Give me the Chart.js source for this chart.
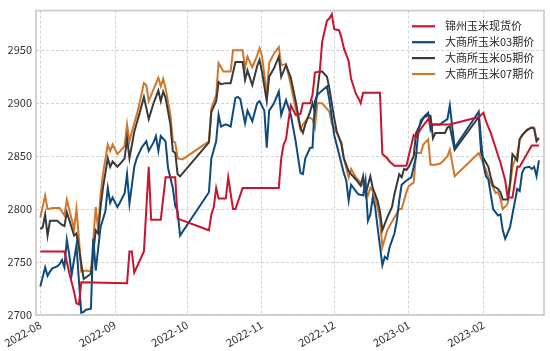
<!DOCTYPE html>
<html>
<head>
<meta charset="utf-8">
<script src="https://cdn.jsdelivr.net/npm/chart.js@4.4.0/dist/chart.umd.min.js"></script>
<style>
  html, body { margin: 0; padding: 0; background: #fff; }
</style>
</head>
<body>
<canvas id="myChart" width="550" height="351"></canvas>
<script>
// series names and colours
const seriesNames = ['锦州玉米现货价', '大商所玉米03期价', '大商所玉米05期价', '大商所玉米07期价'];
const seriesColors = ['#c8142d', '#0f4a7c', '#3a3a3a', '#d0772c'];

// 锦州玉米现货价 (dates are MM-DD, Aug 2022 .. Feb 2023)
const spotDates = ['08-01','08-11','08-13','08-15','08-16','08-17','08-18','09-06','09-07','09-08','09-09','09-13','09-15','09-16','09-20','09-22','09-26','09-27',
  '10-10','10-11','10-12','10-13','10-14','10-17','10-18','10-19','10-20','10-21','10-24','11-08','11-09','11-10','11-11','11-12','11-13','11-15','11-17','11-18','11-21',
  '11-22','11-23','11-25','11-26','11-28','11-29','11-30','12-01','12-03','12-04','12-05','12-07','12-08','12-10','12-11','12-12','12-13','12-20','12-21','12-23','12-24',
  '12-26','12-31','01-03','01-04','01-06','01-09','01-10','01-18','01-30','02-01','02-02','02-04','02-06','02-08','02-10','02-11','02-13','02-15','02-16',
  '02-18','02-21','02-24'];
const spotPrices = [2760,2760,2740,2722,2711,2710,2731,2730,2760,2760,2740,2760,2840,2790,2790,2830,2830,2791,
  2780,2795,2802,2820,2810,2810,2830,2815,2800,2800,2820,2820,2848,2861,2866,2883,2898,2889,2890,2900,2900,
  2908,2929,2930,2958,2978,2980,2984,2970,2969,2962,2952,2940,2923,2909,2905,2900,2910,2910,2852,2848,2845,
  2841,2841,2870,2868,2876,2885,2880,2880,2887,2891,2883,2872,2858,2844,2827,2811,2811,2840,2840,
  2848,2860,2860];

// 大商所玉米03期价
const c03Dates = ['08-01','08-03','08-04','08-05','08-06','08-08','08-09','08-10','08-11','08-12','08-13','08-14','08-16','08-17','08-18','08-19','08-20','08-22','08-23','08-24',
  '08-26','08-28','08-29','08-30','08-31','09-02','09-03','09-05','09-06','09-07','09-09','09-10','09-12','09-14','09-15','09-17','09-18','09-19','09-20','09-22',
  '09-23','09-25','09-26','09-27','09-28','10-10','10-11','10-13','10-14','10-15','10-17','10-19','10-21','10-22','10-23','10-25','10-26','10-28','10-30','10-31',
  '11-02','11-03','11-04','11-06','11-08','11-09','11-11','11-13','11-15','11-17','11-18','11-19','11-21','11-22','11-23','11-24','11-26','11-28','11-29','12-01',
  '12-03','12-05','12-06','12-07','12-08','12-10','12-11','12-13','12-14','12-15','12-16','12-17','12-18','12-19','12-21','12-22','12-23','12-24','12-26','12-27',
  '12-28','12-29','12-31','01-02','01-04','01-05','01-06','01-08','01-09','01-10','01-11','01-12','01-14','01-15','01-17','01-18','01-20','01-30','01-31','02-01',
  '02-02','02-03','02-04','02-05','02-07','02-08','02-09','02-10','02-12','02-13','02-15','02-16','02-17','02-18','02-20','02-21','02-22','02-23','02-24'];
const c03Prices = [2727,2745,2737,2741,2744,2746,2748,2752,2745,2771,2757,2738,2766,2733,2702,2703,2705,2706,2772,2742,
  2783,2798,2820,2806,2811,2802,2806,2815,2833,2805,2840,2848,2858,2864,2855,2863,2869,2855,2869,2864,
  2839,2820,2803,2798,2775,2816,2848,2864,2889,2878,2880,2878,2905,2906,2904,2881,2893,2883,2900,2902,
  2893,2858,2893,2900,2911,2889,2903,2889,2864,2834,2833,2848,2858,2858,2902,2908,2912,2916,2903,2870,
  2852,2834,2827,2808,2823,2817,2814,2813,2827,2789,2795,2811,2802,2783,2747,2755,2753,2764,2777,2789,
  2808,2823,2827,2830,2850,2875,2884,2889,2891,2875,2880,2880,2880,2882,2885,2898,2858,2892,2864,2842,
  2831,2828,2814,2800,2794,2795,2780,2772,2783,2795,2819,2817,2834,2839,2840,2838,2840,2831,2846];

// 大商所玉米05期价
const c05Dates = ['08-01','08-02','08-03','08-04','08-05','08-08','08-10','08-11','08-12','08-13','08-15','08-16','08-17','08-18','08-19','08-22','08-24','08-25','08-26','08-27',
  '08-29','08-30','08-31','09-02','09-04','09-05','09-06','09-07','09-09','09-11','09-13','09-15','09-17','09-19','09-20','09-21','09-22','09-24','09-25','09-26',
  '09-27','09-28','10-10','10-11','10-13','10-14','10-15','10-17','10-19','10-21','10-24','10-25','10-26','10-28','10-30','10-31','11-01','11-03','11-04','11-06',
  '11-08','11-09','11-11','11-13','11-15','11-17','11-18','11-19','11-21','11-22','11-23','11-25','11-26','11-28','11-29','12-01','12-02','12-04','12-05','12-07',
  '12-08','12-10','12-12','12-13','12-14','12-16','12-17','12-19','12-20','12-21','12-22','12-23','12-25','12-26','12-28','12-29','12-30','12-31','01-01','01-03',
  '01-04','01-06','01-07','01-09','01-10','01-11','01-12','01-14','01-16','01-17','01-18','01-20','01-30','01-31','02-01','02-02','02-03','02-04','02-05','02-07',
  '02-08','02-09','02-11','02-12','02-13','02-15','02-16','02-17','02-19','02-21','02-22','02-23','02-24'];
const c05Prices = [2781,2783,2795,2775,2789,2789,2785,2784,2797,2790,2775,2777,2764,2748,2734,2739,2780,2777,2802,2820,
  2848,2840,2845,2840,2845,2848,2867,2848,2873,2889,2906,2885,2900,2912,2902,2911,2905,2880,2855,2853,
  2833,2831,2863,2892,2902,2920,2918,2919,2919,2939,2939,2922,2931,2917,2935,2941,2930,2902,2925,2933,
  2944,2925,2936,2924,2902,2877,2872,2880,2892,2900,2892,2930,2930,2925,2914,2886,2874,2861,2848,2836,
  2833,2828,2822,2831,2814,2831,2820,2808,2798,2780,2786,2792,2802,2814,2833,2830,2838,2837,2840,2850,
  2872,2881,2886,2889,2888,2867,2872,2872,2872,2877,2878,2856,2887,2853,2848,2844,2840,2830,2822,2819,
  2816,2809,2809,2825,2852,2846,2866,2870,2875,2877,2876,2864,2867];

// 大商所玉米07期价
const c07Dates = ['08-01','08-03','08-04','08-06','08-09','08-11','08-12','08-15','08-16','08-17','08-18','08-20','08-22','08-24','08-25','08-26','08-27','08-29','08-30','08-31',
  '09-02','09-04','09-05','09-06','09-07','09-08','09-10','09-11','09-13','09-14','09-15','09-17','09-19','09-20','09-21','09-22','09-24','09-25','09-26','09-27',
  '09-29','10-10','10-11','10-13','10-14','10-16','10-19','10-20','10-23','10-24','10-25','10-26','10-28','10-30','10-31','11-01','11-03','11-04','11-06','11-08',
  '11-09','11-11','11-13','11-15','11-17','11-18','11-20','11-21','11-22','11-23','11-24','11-26','11-29','11-30','12-02','12-04','12-05','12-07','12-08','12-10',
  '12-12','12-13','12-15','12-16','12-17','12-19','12-20','12-21','12-22','12-23','12-25','12-26','12-28','12-29','12-31','01-01','01-03','01-04','01-06','01-07',
  '01-09','01-10','01-12','01-14','01-15','01-17','01-18','01-20','01-30','01-31','02-02','02-03','02-04','02-05','02-06','02-07','02-08','02-09','02-11','02-12',
  '02-13','02-15','02-16','02-18','02-20','02-21','02-22','02-23','02-24'];
const c07Prices = [2792,2813,2800,2801,2801,2794,2809,2781,2800,2773,2741,2742,2741,2802,2780,2814,2833,2861,2855,2861,
  2852,2857,2860,2880,2864,2873,2889,2898,2919,2917,2902,2913,2924,2916,2923,2914,2889,2864,2863,2848,
  2847,2864,2895,2908,2938,2930,2930,2950,2950,2950,2933,2944,2934,2945,2952,2945,2909,2938,2947,2953,
  2936,2937,2917,2895,2875,2880,2886,2886,2885,2877,2900,2900,2892,2881,2872,2863,2848,2830,2838,2830,
  2825,2823,2813,2820,2817,2802,2790,2764,2772,2780,2788,2792,2800,2800,2816,2822,2825,2853,2853,2861,
  2866,2842,2842,2843,2845,2850,2856,2831,2853,2848,2837,2830,2825,2820,2815,2816,2810,2800,2805,2822,
  2840,2852,2866,2872,2876,2877,2877,2866,2867];

// axis ticks
const monthLabels = ['2022-08', '2022-09', '2022-10', '2022-11', '2022-12', '2023-01', '2023-02'];
const yTicks = [2700, 2750, 2800, 2850, 2900, 2950];

const base = Date.UTC(2022, 7, 1);
function dayIndex(md) {
  const [m, d] = md.split('-').map(Number);
  const y = m >= 8 ? 2022 : 2023;
  return (Date.UTC(y, m - 1, d) - base) / 86400000;
}
const monthValues = monthLabels.map(s => {
  const [y, m] = s.split('-').map(Number);
  return (Date.UTC(y, m - 1, 1) - base) / 86400000;
});

function toPoints(dates, values) {
  return dates.map((d, i) => ({ x: dayIndex(d), y: values[i] }));
}

const allDates = [spotDates, c03Dates, c05Dates, c07Dates];
const allValues = [spotPrices, c03Prices, c05Prices, c07Prices];

const tickFont = { family: '"Noto Sans CJK SC", "DejaVu Sans", sans-serif', size: 11 };

// plot frame and legend drawn inside the plot area
const framePlugin = {
  id: 'frame',
  afterDatasetsDraw(chart) {
    const { ctx, chartArea: a } = chart;
    ctx.save();
    ctx.strokeStyle = '#c9c9c9';
    ctx.lineWidth = 1.6;
    ctx.strokeRect(a.left, a.top, a.right - a.left, a.bottom - a.top);
    ctx.restore();
  },
  afterDraw(chart) {
    const { ctx, chartArea: a } = chart;
    const x0 = a.right - 132;
    const y0 = a.top + 15.7;
    const step = 15.9;
    ctx.save();
    ctx.font = '11px "Noto Sans CJK SC", sans-serif';
    ctx.textBaseline = 'middle';
    chart.data.datasets.forEach((ds, i) => {
      const y = y0 + i * step;
      ctx.strokeStyle = ds.borderColor;
      ctx.lineWidth = 2.2;
      ctx.beginPath();
      ctx.moveTo(x0, y);
      ctx.lineTo(x0 + 23, y);
      ctx.stroke();
      ctx.fillStyle = '#262626';
      ctx.fillText(ds.label, x0 + 33, y);
    });
    ctx.restore();
  }
};

const ctx = document.getElementById('myChart').getContext('2d');
const myChart = new Chart(ctx, {
  type: 'line',
  data: {
    datasets: seriesNames.map((name, i) => ({
      label: name,
      data: toPoints(allDates[i], allValues[i]),
      borderColor: seriesColors[i],
      backgroundColor: seriesColors[i],
      borderWidth: 2,
      pointRadius: 0,
      tension: 0,
      fill: false
    }))
  },
  options: {
    responsive: false,
    animation: false,
    layout: { padding: { top: 8, right: 6, left: 0, bottom: 0 } },
    plugins: { legend: { display: false }, tooltip: { enabled: false } },
    scales: {
      x: {
        type: 'linear',
        min: -1.8,
        max: 209.1,
        afterBuildTicks: s => { s.ticks = monthValues.map(v => ({ value: v })); },
        afterFit: s => { s.height = 36; },
        ticks: {
          autoSkip: false,
          minRotation: 30,
          maxRotation: 30,
          padding: 3,
          color: '#333',
          font: tickFont,
          callback: (v, i) => monthLabels[i]
        },
        grid: { color: '#d2d2d2', lineWidth: 1, drawTicks: false },
        border: { display: false, dash: [3, 2] }
      },
      y: {
        type: 'linear',
        min: 2700,
        max: 2987.5,
        afterBuildTicks: s => { s.ticks = yTicks.map(v => ({ value: v })); },
        afterFit: s => { s.width = 36; },
        ticks: {
          padding: 4,
          color: '#333',
          font: tickFont,
          callback: v => String(v)
        },
        grid: { color: '#d2d2d2', lineWidth: 1, drawTicks: false },
        border: { display: false, dash: [3, 2] }
      }
    }
  },
  plugins: [framePlugin]
});
</script>
</body>
</html>
